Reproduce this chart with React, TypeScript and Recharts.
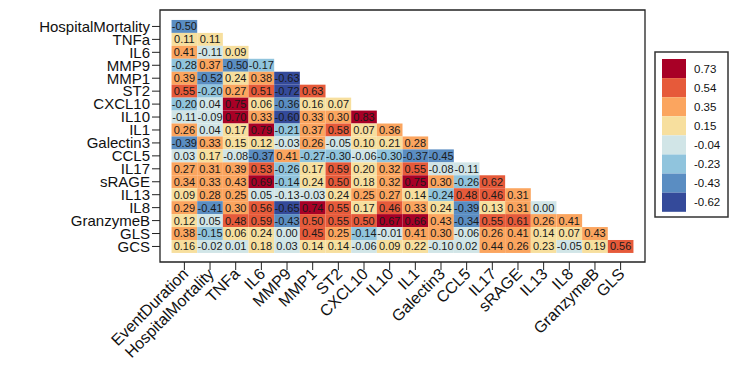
import React from "react";
import { ScatterChart, Scatter, XAxis, YAxis, ReferenceArea } from "recharts";

const rowLabels = [
  "HospitalMortality", "TNFa", "IL6", "MMP9", "MMP1", "ST2", "CXCL10", "IL10", "IL1",
  "Galectin3", "CCL5", "IL17", "sRAGE", "IL13", "IL8", "GranzymeB", "GLS", "GCS",
];

const colLabels = [
  "EventDuration", "HospitalMortality", "TNFa", "IL6", "MMP9", "MMP1", "ST2", "CXCL10", "IL10",
  "IL1", "Galectin3", "CCL5", "IL17", "sRAGE", "IL13", "IL8", "GranzymeB", "GLS",
];

// lower triangle, one row per rowLabels entry
const corrValues: number[][] = [
  [-0.5],
  [0.11, 0.11],
  [0.41, -0.11, 0.09],
  [-0.28, 0.37, -0.5, -0.17],
  [0.39, -0.52, 0.24, 0.38, -0.63],
  [0.55, -0.2, 0.27, 0.51, -0.72, 0.63],
  [-0.2, 0.04, 0.75, 0.06, -0.36, 0.16, 0.07],
  [-0.11, -0.09, 0.7, 0.33, -0.6, 0.33, 0.3, 0.83],
  [0.26, 0.04, 0.17, 0.79, -0.21, 0.37, 0.58, 0.07, 0.36],
  [-0.39, 0.33, 0.15, 0.12, -0.03, 0.26, -0.05, 0.1, 0.21, 0.28],
  [0.03, 0.17, -0.08, -0.37, 0.41, -0.27, -0.3, -0.06, -0.3, -0.37, -0.45],
  [0.27, 0.31, 0.39, 0.53, -0.26, 0.17, 0.59, 0.2, 0.32, 0.55, -0.08, -0.11],
  [0.34, 0.33, 0.43, 0.69, -0.14, 0.24, 0.5, 0.18, 0.32, 0.75, 0.3, -0.26, 0.62],
  [0.09, 0.28, 0.25, 0.05, -0.13, -0.03, 0.24, 0.25, 0.27, 0.14, -0.24, 0.48, 0.46, 0.31],
  [0.29, -0.41, 0.3, 0.56, -0.65, 0.74, 0.55, 0.17, 0.46, 0.33, 0.24, -0.39, 0.13, 0.31, 0.0],
  [0.12, 0.05, 0.48, 0.59, -0.43, 0.5, 0.55, 0.5, 0.67, 0.66, 0.43, -0.34, 0.55, 0.61, 0.26, 0.41],
  [0.38, -0.15, 0.06, 0.24, 0.0, 0.45, 0.25, -0.14, -0.01, 0.41, 0.3, -0.06, 0.26, 0.41, 0.14, 0.07, 0.43],
  [0.16, -0.02, 0.01, 0.18, 0.03, 0.14, 0.14, -0.06, 0.09, 0.22, -0.1, 0.02, 0.44, 0.26, 0.23, -0.05, 0.19, 0.56],
];

// legend, low to high
const legendLabels = ["-0.62", "-0.43", "-0.23", "-0.04", "0.15", "0.35", "0.54", "0.73"];
const legendColors = ["#344a9a", "#5a8dc2", "#90c4dd", "#d1e5e7", "#f7df9e", "#fba55f", "#e65a3a", "#a80026"];

const W = 756;
const H = 370;
const PLOT_LEFT = 160;
const PLOT_TOP = 10;
const PLOT_RIGHT = 645;
const PLOT_BOTTOM = 262;
const X_DOM: [number, number] = [-0.95, 17.95];
const Y_DOM: [number, number] = [-1.27, 18.2];
const CELL_W = (PLOT_RIGHT - PLOT_LEFT) / (X_DOM[1] - X_DOM[0]);
const CELL_H = (PLOT_BOTTOM - PLOT_TOP) / (Y_DOM[1] - Y_DOM[0]);
const FONT = "'Liberation Sans', Arial, Helvetica, sans-serif";

const allVals = corrValues.flat();
const vMin = Math.min(...allVals);
const vMax = Math.max(...allVals);
const binW = (vMax - vMin) / legendColors.length;

function colorFor(v: number) {
  const i = Math.min(legendColors.length - 1, Math.max(0, Math.floor((v - vMin) / binW + 1e-9)));
  return legendColors[i];
}

const cells = corrValues.flatMap((row, r) => row.map((v, c) => ({ x: c, y: r, v })));

const CellShape = (props: any) => {
  const { cx, cy, payload } = props;
  return (
    <g>
      <rect x={cx - CELL_W / 2} y={cy - CELL_H / 2} width={CELL_W} height={CELL_H} fill={colorFor(payload.v)} />
      <text x={cx} y={cy} dy="0.36em" textAnchor="middle" fontSize={11} fontFamily={FONT} fill="#1a1a1a">
        {payload.v.toFixed(2)}
      </text>
    </g>
  );
};

const XTick = (props: any) => {
  const { x, y, payload } = props;
  const tx = x + 5;
  const ty = y + 3;
  return (
    <text x={tx} y={ty} transform={`rotate(-45 ${tx} ${ty})`} textAnchor="end" fontSize={16} fontFamily={FONT} fill="#111">
      {colLabels[payload.value]}
    </text>
  );
};

const idx = rowLabels.map((_, i) => i);

export default function App() {
  return (
    <div style={{ position: "absolute", left: 0, top: 0, width: W, height: H, background: "#fff" }}>
      <ScatterChart
        width={W}
        height={H}
        margin={{ top: PLOT_TOP, left: PLOT_LEFT - 150, right: W - PLOT_RIGHT, bottom: H - PLOT_BOTTOM - 90 }}
      >
        <XAxis
          type="number"
          dataKey="x"
          domain={X_DOM}
          allowDataOverflow
          ticks={idx}
          interval={0}
          height={90}
          tickSize={8}
          axisLine={false}
          tickLine={{ stroke: "#222" }}
          tick={<XTick />}
        />
        <YAxis
          type="number"
          dataKey="y"
          domain={Y_DOM}
          allowDataOverflow
          reversed
          ticks={idx}
          interval={0}
          width={150}
          tickSize={8}
          axisLine={false}
          tickLine={{ stroke: "#222" }}
          tickFormatter={(v: number) => rowLabels[v]}
          tick={{ fontSize: 15, fontFamily: FONT, fill: "#111" }}
        />
        <Scatter data={cells} shape={<CellShape />} isAnimationActive={false} />
        <ReferenceArea x1={X_DOM[0]} x2={X_DOM[1]} y1={Y_DOM[0]} y2={Y_DOM[1]} fill="none" stroke="#222" strokeWidth={1.3} />
      </ScatterChart>
      <svg width={W} height={H} style={{ position: "absolute", left: 0, top: 0, pointerEvents: "none" }}>
        <rect x={655} y={52} width={73} height={165} fill="none" stroke="#333" strokeWidth={1.5} />
        {legendColors
          .map((c, i) => ({ c, label: legendLabels[i] }))
          .reverse()
          .map((d, i) => (
            <g key={d.label}>
              <rect x={662} y={59 + i * 19.1} width={24} height={19.1} fill={d.c} />
              <text x={694} y={59 + i * 19.1 + 9.5} dy="0.36em" fontSize={11.5} fontFamily={FONT} fill="#111">
                {d.label}
              </text>
            </g>
          ))}
      </svg>
    </div>
  );
}
